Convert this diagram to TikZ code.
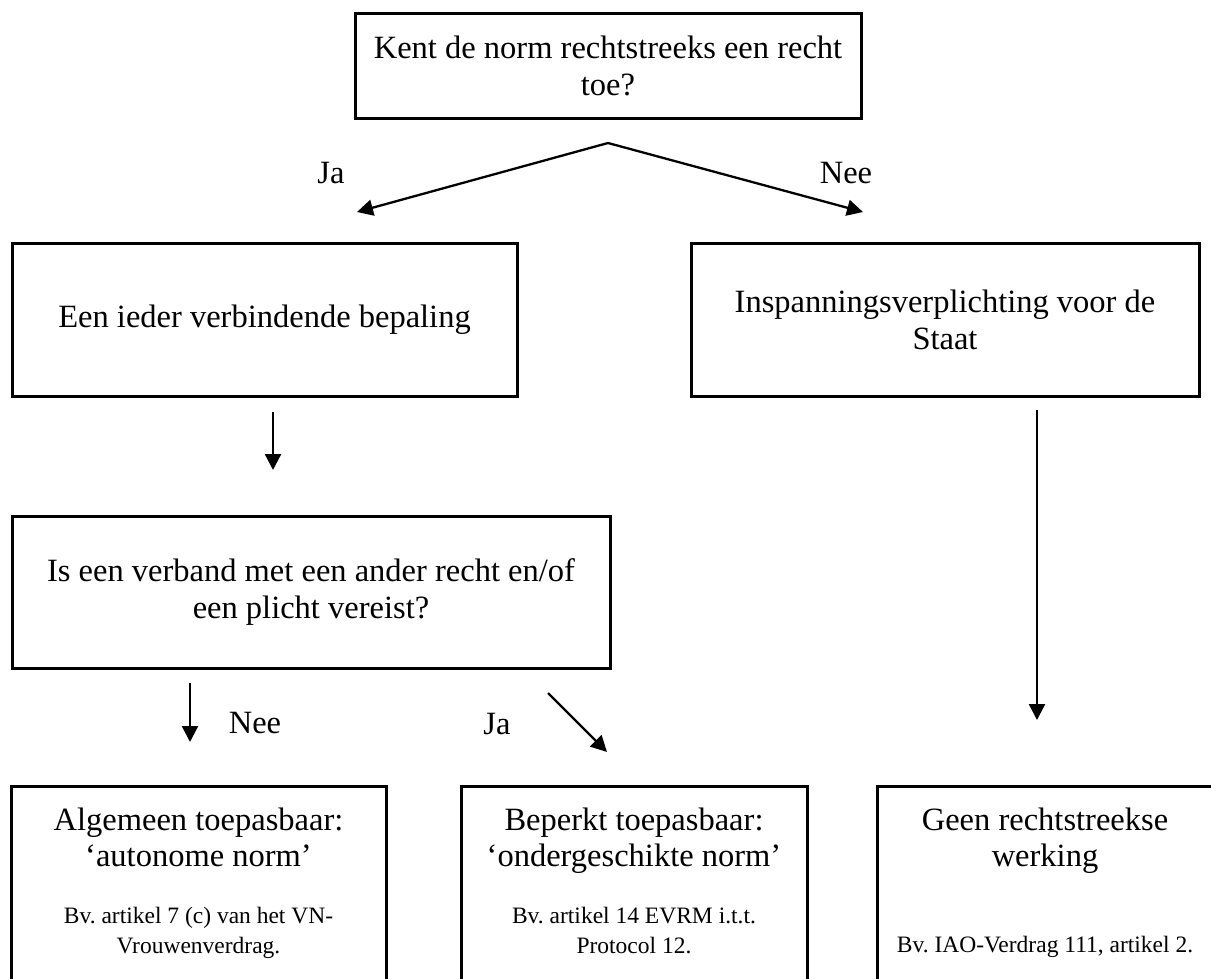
\documentclass[tikz,border=0pt]{standalone}
\usepackage{fontspec}
\setmainfont{Liberation Serif}
\usetikzlibrary{arrows.meta}
\frenchspacing
\begin{document}
\begin{tikzpicture}[x=1pt,y=-1pt,
  box/.style={draw,line width=3pt,rectangle,inner sep=0pt,align=center,font=\fontsize{32.5}{37}\selectfont},
  big/.style={font=\fontsize{32.5}{36}\selectfont,align=center,inner sep=0pt,anchor=north},
  small/.style={font=\fontsize{23.5}{30}\selectfont,align=center,inner sep=0pt,anchor=north},
  arr/.style={line width=2.3pt,-{Triangle[length=16pt,width=16pt]}},
  lbl/.style={font=\fontsize{32.5}{37}\selectfont,inner sep=0pt}]
\useasboundingbox (0,0) rectangle (1211,978);
% boxes
\node[box,minimum width=506pt,minimum height=105pt] (top) at (608,65.5) {Kent de norm rechtstreeks een recht\\toe?};
\node[box,minimum width=505pt,minimum height=153pt] (een) at (264.5,319.5) {Een ieder verbindende bepaling};
\node[box,minimum width=508pt,minimum height=153pt] (insp) at (945,319.5) {Inspanningsverplichting voor de\\Staat};
\node[box,minimum width=598pt,minimum height=152pt] (verb) at (311,592) {Is een verband met een ander recht en/of\\een plicht vereist?};
\node[box,minimum width=375pt,minimum height=224pt] (b1) at (198.5,898) {};
\node[box,minimum width=346pt,minimum height=224pt] (b2) at (634,898) {};
\node[box,minimum width=336pt,minimum height=224pt] (b3) at (1045,898) {};
% bottom texts
\node[big] (t1) at (198.5,808) {Algemeen toepasbaar:\\‘autonome norm’};
\node[small] (s1) at (198.5,907) {Bv. artikel 7 (c) van het VN-\\Vrouwenverdrag.};
\node[big] (t2) at (634,808) {Beperkt toepasbaar:\\‘ondergeschikte norm’};
\node[small] (s2) at (634,907) {Bv. artikel 14 EVRM i.t.t.\\Protocol 12.};
\node[big] (t3) at (1045,808) {Geen rechtstreekse\\werking};
\node[small] (s3) at (1045,936) {Bv. IAO-Verdrag 111, artikel 2.};
% arrows
\coordinate (apex) at (608,143);
\coordinate (jaend) at (357,212);
\coordinate (neeend) at (863,212);
\draw[arr] (apex) -- (jaend);
\draw[arr] (apex) -- (neeend);
\node[lbl] (ja1) at (331,173) {Ja};
\node[lbl] (nee1) at (846,173) {Nee};
\coordinate (d1s) at (273,412);
\coordinate (d1e) at (273,470);
\draw[arr] (d1s) -- (d1e);
\coordinate (d2s) at (1037,410);
\coordinate (d2e) at (1037,720);
\draw[arr] (d2s) -- (d2e);
\coordinate (d3s) at (190,683);
\coordinate (d3e) at (190,742);
\draw[arr] (d3s) -- (d3e);
\coordinate (d4s) at (548,693);
\coordinate (d4e) at (607,752);
\draw[arr] (d4s) -- (d4e);
\node[lbl] (nee2) at (255,723) {Nee};
\node[lbl] (ja2) at (497,724) {Ja};
\end{tikzpicture}
\end{document}
